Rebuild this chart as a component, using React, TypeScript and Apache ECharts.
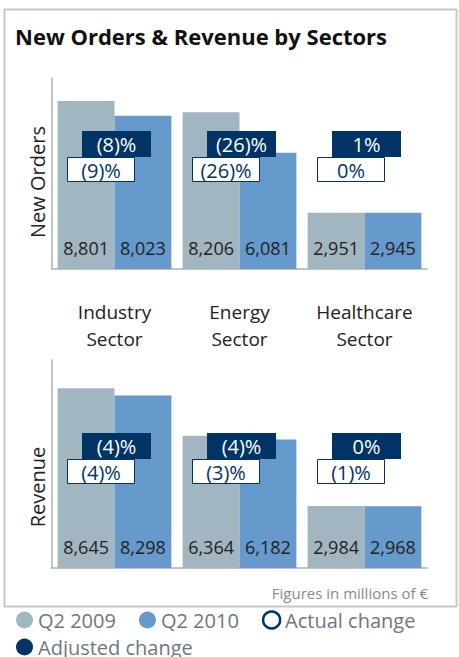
import React, { useEffect, useRef } from "react";
import * as echarts from "echarts";

const categories = ["Industry\nSector", "Energy\nSector", "Healthcare\nSector"];
const ordersQ2009 = [8801, 8206, 2951];
const ordersQ2010 = [8023, 6081, 2945];
const ordersActual = ["(9)%", "(26)%", "0%"];
const ordersAdjusted = ["(8)%", "(26)%", "1%"];
const revenueQ2009 = [8645, 6364, 2984];
const revenueQ2010 = [8298, 6182, 2968];
const revenueActual = ["(4)%", "(3)%", "(1)%"];
const revenueAdjusted = ["(4)%", "(4)%", "0%"];

const GRAY = "#a2b6c1";
const BLUE = "#6699cc";
const NAVY = "#003366";
const AXIS = "#a8b0c0";
const FONT = "Open Sans";

function boxSeries(gridIdx: number, actual: string[], adjusted: string[], rise: number) {
  return {
    type: "custom",
    name: "Adjusted change",
    xAxisIndex: gridIdx,
    yAxisIndex: gridIdx,
    silent: true,
    z: 10,
    data: adjusted.map((a, i) => [i, 0]),
    renderItem: (params: any, api: any) => {
      const p = api.coord([api.value(0), 0]);
      const cx = p[0];
      const top = p[1] - rise;
      const adj = adjusted[params.dataIndex];
      const act = actual[params.dataIndex];
      return {
        type: "group",
        children: [
          {
            type: "rect",
            shape: { x: cx - 32.5, y: top, width: 69, height: 26 },
            style: { fill: NAVY },
          },
          {
            type: "text",
            x: cx + 2,
            y: top + 13.5,
            style: {
              text: adj,
              fill: "#ffffff",
              font: `20px "${FONT}"`,
              align: "center",
              verticalAlign: "middle",
            },
          },
          {
            type: "rect",
            shape: { x: cx - 47, y: top + 26.5, width: 67, height: 24 },
            style: { fill: "#ffffff", stroke: NAVY, lineWidth: 1 },
          },
          {
            type: "text",
            x: cx - 13.5,
            y: top + 39,
            style: {
              text: act,
              fill: NAVY,
              font: `20px "${FONT}"`,
              align: "center",
              verticalAlign: "middle",
            },
          },
        ],
      };
    },
  };
}

function barSeries(name: string, color: string, gridIdx: number, data: number[]) {
  return {
    type: "bar",
    name,
    xAxisIndex: gridIdx,
    yAxisIndex: gridIdx,
    data,
    barGap: "0%",
    barCategoryGap: "9%",
    itemStyle: { color },
    label: {
      show: true,
      position: "insideBottom",
      distance: 12,
      color: "#222222",
      fontSize: 18,
      fontFamily: FONT,
      formatter: (p: any) => Number(p.value).toLocaleString("en-US"),
    },
  };
}

export default function App() {
  const ref = useRef<HTMLDivElement>(null);
  useEffect(() => {
    if (!ref.current) return;
    const chart = echarts.init(ref.current, undefined, { renderer: "svg" });
    const axisLine = { show: true, lineStyle: { color: AXIS, width: 1.5 } };
    const legendText = { fontSize: 20, color: "#6b7786", fontFamily: FONT };
    chart.setOption({
      animation: false,
      backgroundColor: "#ffffff",
      textStyle: { fontFamily: FONT },
      grid: [
        { left: 52, top: 78, width: 375, height: 191 },
        { left: 52, top: 360, width: 375, height: 208 },
      ],
      xAxis: [
        {
          type: "category",
          gridIndex: 0,
          data: categories,
          axisLine,
          axisTick: { show: false },
          axisLabel: {
            show: true,
            margin: 29,
            fontSize: 19,
            lineHeight: 27,
            color: "#222222",
            fontFamily: FONT,
            interval: 0,
          },
        },
        {
          type: "category",
          gridIndex: 1,
          data: categories,
          axisLine,
          axisTick: { show: false },
          axisLabel: { show: false },
        },
      ],
      yAxis: [
        {
          type: "value",
          gridIndex: 0,
          min: 0,
          max: 10000,
          axisLine,
          axisTick: { show: false },
          axisLabel: { show: false },
          splitLine: { show: false },
        },
        {
          type: "value",
          gridIndex: 1,
          min: 0,
          max: 10000,
          axisLine,
          axisTick: { show: false },
          axisLabel: { show: false },
          splitLine: { show: false },
        },
      ],
      legend: [
        {
          left: 11,
          top: 605,
          itemWidth: 17,
          itemHeight: 17,
          itemGap: 23,
          icon: "circle",
          textStyle: legendText,
          data: [
            { name: "Q2 2009", itemStyle: { color: GRAY } },
            { name: "Q2 2010", itemStyle: { color: BLUE } },
            {
              name: "Actual change",
              itemStyle: { color: "#ffffff", borderColor: NAVY, borderWidth: 2.5 },
            },
          ],
          selectedMode: false,
        },
        {
          left: 11,
          top: 632,
          itemWidth: 17,
          itemHeight: 17,
          icon: "circle",
          textStyle: legendText,
          data: [{ name: "Adjusted change", itemStyle: { color: NAVY } }],
          selectedMode: false,
        },
      ],
      series: [
        barSeries("Q2 2009", GRAY, 0, ordersQ2009),
        barSeries("Q2 2010", BLUE, 0, ordersQ2010),
        barSeries("Q2 2009", GRAY, 1, revenueQ2009),
        barSeries("Q2 2010", BLUE, 1, revenueQ2010),
        boxSeries(0, ordersActual, ordersAdjusted, 138),
        boxSeries(1, revenueActual, revenueAdjusted, 135),
        {
          type: "line",
          name: "Actual change",
          xAxisIndex: 0,
          yAxisIndex: 0,
          data: [],
        },
      ],
      graphic: [
        {
          type: "rect",
          left: 2,
          top: 7,
          shape: { x: 0, y: 0, width: 452, height: 597 },
          style: { fill: "none", stroke: "#c8c8c8", lineWidth: 2 },
          silent: true,
        },
        {
          type: "text",
          x: 15,
          y: 36,
          style: {
            text: "New Orders & Revenue by Sectors",
            fill: "#111111",
            font: `700 22px "${FONT}"`,
            verticalAlign: "middle",
          },
        },
        {
          type: "text",
          x: 37,
          y: 182,
          rotation: Math.PI / 2,
          style: {
            text: "New Orders",
            fill: "#222222",
            font: `20px "${FONT}"`,
            align: "center",
            verticalAlign: "middle",
          },
        },
        {
          type: "text",
          x: 37,
          y: 487,
          rotation: Math.PI / 2,
          style: {
            text: "Revenue",
            fill: "#222222",
            font: `20px "${FONT}"`,
            align: "center",
            verticalAlign: "middle",
          },
        },
        {
          type: "text",
          x: 428,
          y: 593,
          style: {
            text: "Figures in millions of €",
            fill: "#8a8a8a",
            font: `15px "${FONT}"`,
            align: "right",
            verticalAlign: "middle",
          },
        },
      ],
    });
    return () => chart.dispose();
  }, []);
  return (
    <div
      ref={ref}
      style={{ position: "absolute", left: 0, top: 0, width: 459, height: 657 }}
    />
  );
}
